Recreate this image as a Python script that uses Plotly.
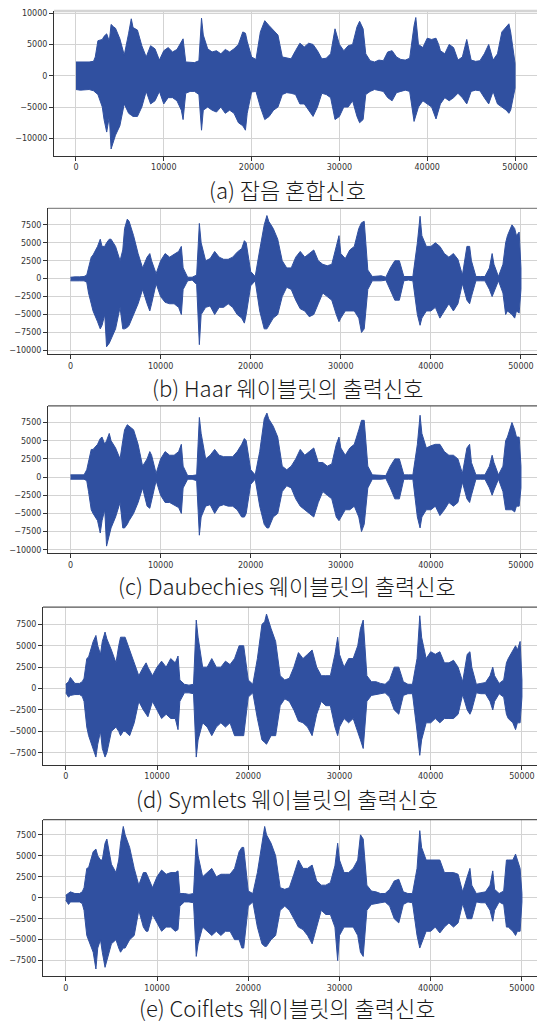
import plotly.graph_objects as go

W, H = 537, 1022
WAVE_COLOR = "#3050a0"

# ---- noisy input signal: sample index and upper / lower envelope of the waveform ----
x_a = [0, 500, 1000, 1500, 2000, 2200, 2500, 3000, 3200, 3500,
       3800, 4000, 4300, 4500, 5000, 5500, 6000, 6300, 6500, 7000,
       7500, 8000, 8500, 9000, 9500, 10000, 10500, 11000, 11500, 12000,
       12200, 12500, 13000, 13500, 14000, 14300, 14500, 15000, 15500, 16000,
       16500, 17000, 17500, 18000, 18500, 19000, 19300, 19500, 20000, 20500,
       21000, 21500, 22000, 22500, 23000, 23500, 24000, 24500, 25000, 25500,
       26000, 26500, 27000, 27500, 28000, 28500, 29000, 29500, 30000, 30500,
       31000, 31500, 32000, 32300, 32700, 33000, 33500, 34000, 34500, 35000,
       35500, 36000, 36500, 37000, 37500, 38000, 38500, 38700, 39000, 39500,
       40000, 40500, 41000, 41300, 41500, 42000, 42500, 43000, 43500, 44000,
       44500, 45000, 45500, 46000, 46500, 47000, 47500, 48000, 48500, 49000,
       49300, 49500, 50000]
hi_a = [2200, 2200, 2100, 2200, 2300, 3000, 5600, 5800, 6300, 6700,
        5500, 8200, 7800, 7600, 5900, 3300, 6800, 9100, 7700, 7300,
        4800, 3000, 4800, 4300, 2500, 4000, 4500, 3800, 4200, 5400,
        5900, 2200, 2200, 2100, 2400, 9200, 6500, 4300, 3800, 4000,
        3500, 4200, 3800, 4300, 5000, 7000, 6800, 5500, 3000, 2600,
        7000, 8800, 8000, 7200, 6500, 3000, 2800, 2700, 4000, 5200,
        4600, 5200, 5000, 4000, 2700, 2800, 3500, 7500, 5000, 4000,
        4800, 5000, 7800, 8700, 7500, 3500, 2400, 2200, 2500, 2400,
        3800, 4000, 3000, 2600, 2500, 2800, 8000, 9300, 5000, 4500,
        6000, 5800, 6000, 5000, 4000, 3500, 5000, 4500, 2500, 3000,
        5800, 2500, 2300, 2400, 3500, 5000, 2500, 3500, 7000, 7800,
        8300, 7000, 2000]
lo_a = [-2200, -2300, -2300, -2200, -2400, -2600, -3000, -5000, -7000, -9000,
        -6500, -11700, -10500, -9500, -8000, -4500, -6000, -6300, -6500, -6500,
        -5000, -2500, -4500, -4000, -2500, -4500, -3500, -3500, -4000, -5500,
        -7000, -2800, -2500, -2500, -3000, -8700, -5500, -5000, -5500, -5800,
        -5000, -6000, -5500, -6000, -7500, -8000, -8700, -6000, -2600, -2500,
        -5000, -7000, -6500, -5500, -5000, -3000, -2700, -2800, -3000, -4500,
        -4500, -5500, -6500, -5000, -2800, -3000, -3500, -7000, -6500, -5000,
        -5000, -4000, -6500, -7500, -7000, -3000, -2500, -2200, -2400, -2500,
        -3500, -4000, -2700, -2500, -2300, -2500, -7300, -6500, -5000, -4000,
        -4500, -5000, -6900, -5500, -4500, -3500, -4000, -3500, -2800, -3500,
        -4500, -2500, -2300, -2400, -3500, -4500, -2500, -4500, -5000, -5500,
        -6000, -5500, -2000]

# ---- denoised outputs share one sample grid ----
x_out = [0, 300, 500, 1000, 1500, 1800, 2000, 2300, 2500, 3000,
         3300, 3500, 3800, 4000, 4300, 4500, 5000, 5500, 5800, 6000,
         6300, 6500, 7000, 7500, 8000, 8500, 8800, 9000, 9500, 10000,
         10500, 11000, 11500, 12000, 12300, 12500, 13000, 13500, 14000, 14300,
         14500, 15000, 15500, 16000, 16500, 17000, 17500, 18000, 18500, 19000,
         19300, 19500, 20000, 20500, 21000, 21500, 21800, 22000, 22500, 23000,
         23500, 24000, 24500, 25000, 25500, 26000, 26500, 27000, 27500, 28000,
         28500, 29000, 29500, 29800, 30000, 30500, 31000, 31500, 32000, 32300,
         32600, 33000, 33500, 34000, 34500, 35000, 35500, 36000, 36500, 37000,
         37500, 38000, 38500, 38800, 39000, 39500, 40000, 40500, 41000, 41500,
         42000, 42500, 43000, 43500, 44000, 44300, 44500, 45000, 45500, 46000,
         46500, 46800, 47000, 47500, 48000, 48300, 48500, 49000, 49300, 49500,
         49800, 50000]

# Haar
hi_b = [200, 250, 250, 250, 300, 500, 1500, 3000, 3300, 4500,
        5500, 4500, 4500, 5000, 5500, 5500, 4500, 2500, 4000, 7000,
        8300, 8000, 6000, 3500, 1500, 3000, 3500, 2500, 700, 2500,
        3500, 3000, 3400, 3800, 4500, 1500, 200, 200, 500, 7700,
        5000, 2500, 2800, 3800, 3000, 2700, 2700, 3000, 3700, 4200,
        5300, 5000, 1000, 300, 4000, 7500, 8800, 8000, 7000, 5500,
        2500, 1500, 1500, 3000, 3800, 3000, 3500, 4000, 2500, 2000,
        1800, 2000, 4500, 6000, 3500, 2800, 4000, 4500, 7000, 7800,
        8000, 1200, 300, 300, 400, 200, 1500, 2500, 2500, 300,
        250, 300, 5000, 8700, 6000, 4500, 4500, 5000, 4500, 3500,
        3000, 3500, 2700, 500, 4500, 4500, 2500, 300, 300, 300,
        1500, 3500, 2000, 300, 2000, 5000, 6000, 7500, 7000, 6000,
        6500, 1500]
lo_b = [-300, -300, -300, -300, -300, -500, -2000, -3500, -4500, -6000,
        -7000, -6500, -5000, -9500, -9000, -8500, -7000, -4000, -7000, -7000,
        -6800, -6500, -5000, -3500, -1500, -3500, -4500, -3500, -700, -2500,
        -3300, -3500, -3500, -4000, -5000, -1500, -300, -200, -800, -9200,
        -5000, -4000, -3800, -5000, -4000, -4000, -3500, -4000, -5000, -5500,
        -6200, -5000, -1000, -300, -4500, -7000, -7000, -6500, -5500, -5000,
        -2500, -1200, -1500, -3000, -4200, -4500, -5300, -5000, -3500, -2000,
        -2500, -3000, -5000, -6000, -5500, -4500, -4500, -4500, -5500, -7500,
        -7000, -1500, -300, -300, -300, -200, -1500, -3000, -3000, -300,
        -200, -300, -5000, -6500, -5500, -4500, -4500, -4000, -5500, -4500,
        -3500, -4500, -3500, -700, -3000, -3500, -2500, -300, -300, -300,
        -1500, -2500, -2000, -300, -2000, -5000, -4500, -5000, -5500, -4500,
        -4800, -1500]

# Daubechies
hi_c = [300, 300, 300, 300, 300, 1000, 2000, 3800, 3800, 4500,
        5300, 5500, 4500, 5000, 6000, 5000, 4000, 2500, 5000, 6500,
        7200, 7000, 6500, 4500, 1500, 2500, 3500, 3000, 500, 2500,
        3500, 3000, 3000, 3500, 4500, 1500, 200, 200, 300, 8200,
        6000, 2500, 3000, 3800, 3000, 2800, 2800, 2800, 3500, 4500,
        5300, 5000, 1000, 300, 3500, 8000, 8800, 8000, 7000, 5500,
        1500, 1000, 1500, 2500, 3800, 3000, 3500, 4000, 2000, 2000,
        1500, 1800, 4500, 5500, 4000, 3000, 4000, 4500, 6500, 7800,
        7800, 1500, 300, 300, 300, 200, 1500, 2500, 2500, 300,
        300, 300, 4500, 8500, 6000, 4000, 4300, 4500, 4500, 3500,
        3000, 3000, 2500, 500, 4000, 4500, 2000, 300, 300, 300,
        1500, 3000, 2000, 300, 1500, 5000, 5500, 7500, 6500, 5500,
        5500, 1500]
lo_c = [-300, -300, -300, -300, -300, -500, -2000, -4500, -5000, -6000,
        -7700, -6000, -4500, -9500, -8000, -7000, -5500, -3500, -7000, -7000,
        -6500, -6000, -5000, -3500, -1500, -4000, -4300, -3500, -500, -2500,
        -3500, -3500, -3800, -4200, -5000, -1500, -300, -300, -500, -8000,
        -5500, -4000, -3800, -5000, -4000, -3800, -4000, -4000, -4500, -5500,
        -5500, -5000, -1000, -300, -4000, -6500, -7000, -7000, -5500, -5000,
        -2000, -1200, -1500, -3000, -4000, -4500, -5000, -5500, -3500, -2000,
        -2500, -3000, -5500, -6000, -5500, -4500, -4500, -4000, -5500, -7500,
        -6500, -1500, -300, -300, -300, -200, -1500, -3000, -3000, -300,
        -300, -300, -5500, -7000, -5500, -4500, -4500, -4000, -5300, -4500,
        -3500, -4000, -3500, -700, -3000, -3500, -2500, -300, -300, -300,
        -1500, -2500, -1800, -300, -2000, -4500, -4500, -4500, -4800, -4000,
        -4000, -1500]

# Symlets
hi_d = [500, 800, 1300, 600, 600, 800, 1200, 3500, 3700, 5500,
        6200, 5000, 4000, 5500, 6600, 5800, 4500, 3000, 5000, 6000,
        6000, 6000, 4500, 3000, 1500, 2500, 3000, 2500, 1500, 2500,
        3200, 2500, 3500, 3000, 3800, 1000, 500, 400, 500, 8000,
        6000, 2500, 2500, 3500, 2500, 2500, 3200, 2800, 3500, 5000,
        5000, 5000, 1000, 500, 3500, 7500, 7800, 8700, 7000, 5500,
        1500, 1000, 1200, 2500, 4200, 3500, 4000, 4500, 2500, 1500,
        1500, 1500, 4000, 6000, 4000, 2500, 3500, 3500, 5000, 7000,
        8000, 1500, 800, 800, 600, 500, 1000, 2500, 2500, 800,
        500, 500, 3500, 8500, 6000, 3500, 4300, 4000, 4300, 3000,
        3000, 3300, 2500, 800, 4000, 4300, 2500, 500, 600, 700,
        1500, 2500, 1500, 600, 1000, 3000, 3500, 4500, 5000, 4500,
        5500, 1000]
lo_d = [-500, -1000, -800, -700, -700, -900, -1500, -4500, -5500, -7000,
        -8000, -6500, -5000, -7000, -8000, -7500, -5000, -4500, -5000, -5500,
        -5000, -5000, -5500, -4000, -1500, -2500, -3000, -3300, -1500, -2500,
        -3500, -3000, -3500, -3500, -4800, -1500, -500, -500, -600, -8000,
        -6000, -4000, -4500, -5500, -4500, -4000, -4500, -4000, -5500, -5500,
        -5500, -5500, -1000, -500, -3500, -6000, -6300, -6500, -5500, -5500,
        -2000, -1200, -1500, -2500, -3800, -4000, -4500, -5500, -3000, -1500,
        -2000, -2000, -4500, -5500, -4500, -3500, -4000, -3500, -5000, -6000,
        -7000, -1500, -800, -700, -600, -500, -1000, -2500, -3000, -800,
        -600, -600, -5000, -7800, -6000, -4000, -4000, -3500, -4000, -3500,
        -3500, -3500, -3000, -700, -2500, -3000, -2500, -500, -600, -600,
        -1500, -2500, -1500, -600, -1000, -3000, -3500, -4000, -4800, -4000,
        -4000, -1000]

# Coiflets
hi_e = [300, 600, 700, 500, 500, 700, 1200, 3500, 3600, 5500,
        5800, 5000, 4500, 4500, 6500, 7000, 4000, 3000, 4500, 6500,
        8500, 7500, 6000, 3500, 1500, 3000, 3000, 2500, 1200, 2500,
        3300, 2800, 3000, 3000, 3200, 500, 500, 400, 500, 7000,
        5000, 2500, 3000, 3500, 2500, 2800, 2800, 2800, 3500, 5500,
        6000, 6000, 800, 500, 3000, 6500, 8500, 7500, 6500, 5000,
        1200, 1000, 1200, 2800, 4500, 3500, 3500, 3900, 2000, 1500,
        1500, 1800, 3800, 6500, 4500, 3000, 3000, 3500, 4500, 7500,
        7000, 1500, 800, 700, 500, 500, 1000, 2000, 2200, 700,
        500, 500, 3500, 8000, 6000, 4500, 4500, 4500, 4500, 3000,
        3000, 3000, 2800, 700, 2500, 3500, 1500, 500, 600, 700,
        1500, 3200, 1000, 500, 800, 4500, 4500, 4500, 5200, 4500,
        3500, 500]
lo_e = [-300, -800, -500, -500, -500, -700, -1500, -4500, -5000, -6500,
        -8500, -6000, -5000, -6500, -8300, -7500, -5500, -5000, -6000, -6500,
        -6000, -6000, -5000, -4500, -1500, -3500, -4000, -4000, -2000, -3000,
        -4000, -3500, -3500, -4000, -3800, -1000, -500, -500, -600, -7000,
        -5500, -3500, -4000, -4500, -4000, -4500, -4000, -4000, -5000, -5000,
        -6000, -6000, -1000, -500, -3500, -5500, -5800, -5800, -5000, -4500,
        -1500, -1000, -1500, -2500, -3500, -3800, -4500, -5500, -3500, -1500,
        -2000, -2000, -3500, -7500, -4500, -3500, -3500, -3500, -4500, -6500,
        -7000, -1500, -800, -700, -600, -500, -1000, -2500, -3000, -800,
        -500, -600, -4500, -6000, -5500, -4000, -4000, -3500, -4200, -3500,
        -3000, -3500, -3000, -700, -2500, -2500, -2500, -500, -600, -600,
        -1500, -2800, -1500, -500, -800, -3500, -3500, -4000, -4500, -4000,
        -4000, -500]

captions = ["(a) 잡음 혼합신호",
            "(b) Haar 웨이블릿의 출력신호",
            "(c) Daubechies 웨이블릿의 출력신호",
            "(d) Symlets 웨이블릿의 출력신호",
            "(e) Coiflets 웨이블릿의 출력신호"]

x_ticks = [0, 10000, 20000, 30000, 40000, 50000]
y_ticks_wide = [-10000, -5000, 0, 5000, 10000]
y_ticks_mid = [-10000, -7500, -5000, -2500, 0, 2500, 5000, 7500]
y_ticks_narrow = [-7500, -5000, -2500, 0, 2500, 5000, 7500]


def fmt(v):
    return ("\u2212" + str(-v)) if v < 0 else str(v)


series = [(x_a, hi_a, lo_a), (x_out, hi_b, lo_b), (x_out, hi_c, lo_c),
          (x_out, hi_d, lo_d), (x_out, hi_e, lo_e)]
for xs, hs, ls in series:
    assert len(xs) == len(hs) == len(ls)

# panel frames in pixels: left, top, bottom; plus axis ranges and caption centre
frames = [
    dict(left=54, top=9, bottom=154, xr=[-2500, 52500], yr=[-12750, 10350],
         yt=y_ticks_wide, cap_y=188, top_col="#d4d4d4", top_w=2.5),
    dict(left=48, top=207, bottom=353, xr=[-2500, 51780], yr=[-10500, 9800],
         yt=y_ticks_mid, cap_y=386, top_col="#8a8a8a", top_w=1.2),
    dict(left=48, top=405, bottom=553, xr=[-2500, 51780], yr=[-10500, 9800],
         yt=y_ticks_mid, cap_y=585, top_col="#555555", top_w=1.2),
    dict(left=43, top=607, bottom=765, xr=[-2500, 51650], yr=[-8900, 9500],
         yt=y_ticks_narrow, cap_y=798, top_col="#555555", top_w=1.2),
    dict(left=43, top=820, bottom=977, xr=[-2500, 51650], yr=[-9350, 9320],
         yt=y_ticks_narrow, cap_y=1008, top_col="#555555", top_w=1.2),
]

fig = go.Figure()
shapes = []
annotations = []
tick_font = dict(family="DejaVu Sans", size=8, color="#333333")

for i, ((xs, hs, ls), fr) in enumerate(zip(series, frames), start=1):
    xa = "x" if i == 1 else f"x{i}"
    ya = "y" if i == 1 else f"y{i}"
    fig.add_trace(go.Scatter(
        x=list(xs) + list(xs)[::-1],
        y=list(hs) + list(ls)[::-1],
        xaxis=xa, yaxis=ya,
        mode="lines", fill="toself", fillcolor=WAVE_COLOR,
        line=dict(color=WAVE_COLOR, width=1),
        hoverinfo="skip", showlegend=False,
    ))
    xdom = [fr["left"] / W, 1.0]
    ydom = [1 - fr["bottom"] / H, 1 - fr["top"] / H]
    axis_common = dict(showgrid=True, gridcolor="#d3d3d3", gridwidth=1,
                       zeroline=False, showline=True, linecolor="#333333",
                       linewidth=1, ticks="outside", ticklen=4, tickwidth=1,
                       tickcolor="#333333", tickfont=tick_font)
    fig.layout[f"xaxis{'' if i == 1 else i}"] = dict(
        domain=xdom, range=fr["xr"], anchor=ya,
        tickvals=x_ticks, ticktext=[fmt(v) for v in x_ticks], **axis_common)
    fig.layout[f"yaxis{'' if i == 1 else i}"] = dict(
        domain=ydom, range=fr["yr"], anchor=xa,
        tickvals=fr["yt"], ticktext=[fmt(v) for v in fr["yt"]], **axis_common)
    shapes.append(dict(type="line", xref="paper", yref="paper",
                       x0=xdom[0], x1=1.0, y0=ydom[1], y1=ydom[1],
                       line=dict(color=fr["top_col"], width=fr["top_w"])))
    annotations.append(dict(
        text=captions[i - 1], xref="paper", yref="paper",
        x=287 / W, y=1 - fr["cap_y"] / H, xanchor="center", yanchor="middle",
        showarrow=False, borderpad=0,
        font=dict(family="Noto Sans CJK KR", size=22, weight=300,
                  color="#1a1a1a")))

fig.update_layout(
    width=W, height=H, autosize=False,
    margin=dict(l=0, r=0, t=0, b=0, pad=0),
    paper_bgcolor="white", plot_bgcolor="white",
    shapes=shapes, annotations=annotations,
)

fig.write_html("out.html")
